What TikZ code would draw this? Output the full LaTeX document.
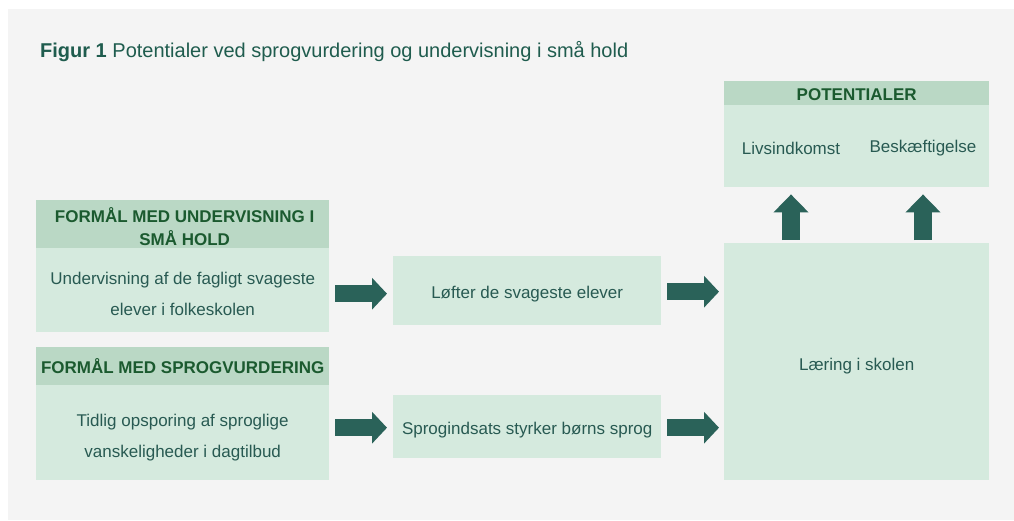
\documentclass[tikz,border=0pt]{standalone}
\usepackage{fontspec}
\setmainfont{Liberation Sans}
\usetikzlibrary{arrows.meta,calc}
\definecolor{bg}{HTML}{F4F4F4}
\definecolor{hdrfill}{HTML}{BAD8C5}
\definecolor{bodyfill}{HTML}{D5EADE}
\definecolor{hdrtext}{HTML}{1B5A2F}
\definecolor{bodytext}{HTML}{285A52}
\definecolor{titlec}{HTML}{1F5C4E}
\definecolor{arrowc}{HTML}{2A6259}
\tikzset{
  hdr/.style={fill=hdrfill, inner sep=0pt, anchor=north west},
  bodybox/.style={fill=bodyfill, inner sep=0pt, anchor=north west},
  hdrtxt/.style={inner sep=0pt, align=center, text=hdrtext, font=\fontsize{17}{23}\selectfont\bfseries},
  plain/.style={inner sep=0pt, align=center, text=bodytext, font=\fontsize{17}{31}\selectfont},
  fatarrow/.style={draw=arrowc, line width=17pt, -{Triangle[width=31pt,length=15pt]}},
  fatarrowv/.style={draw=arrowc, line width=18pt, -{Triangle[width=34pt,length=18pt]}}
}
\begin{document}
\begin{tikzpicture}[x=1pt,y=-1pt]
\path[use as bounding box] (0,0) rectangle (1014,520);
\fill[bg] (8,9) rectangle (1014,520);
\node[anchor=base west, inner sep=0pt, text=titlec, font=\fontsize{20}{24}\selectfont] (title) at (40,57)
  {\textbf{Figur 1} Potentialer ved sprogvurdering og undervisning i små hold};
% left boxes
\node[hdr, minimum width=293pt, minimum height=48pt] (h1) at (36,200) {};
\node[hdrtxt] (h1t) at ($(h1.center)+(2,2)$) {FORMÅL MED UNDERVISNING I\\SMÅ HOLD};
\node[bodybox, minimum width=293pt, minimum height=84pt] (b1) at (36,248) {};
\node[plain] (b1t) at ($(b1.center)+(0,4)$) {Undervisning af de fagligt svageste\\elever i folkeskolen};
\node[hdr, minimum width=293pt, minimum height=38pt] (h2) at (36,347) {};
\node[hdrtxt] (h2t) at ($(h2.center)+(0,0)$) {FORMÅL MED SPROGVURDERING};
\node[bodybox, minimum width=293pt, minimum height=95pt] (b2) at (36,385) {};
\node[plain] (b2t) at ($(b2.center)+(0,5)$) {Tidlig opsporing af sproglige\\vanskeligheder i dagtilbud};
% middle boxes
\node[bodybox, minimum width=268pt, minimum height=69pt] (m1) at (393,256) {};
\node[plain] (m1t) at ($(m1.center)+(0,3)$) {Løfter de svageste elever};
\node[bodybox, minimum width=268pt, minimum height=63pt] (m2) at (393,395) {};
\node[plain] (m2t) at ($(m2.center)+(0,3)$) {Sprogindsats styrker børns sprog};
% right boxes
\node[hdr, minimum width=265pt, minimum height=24pt] (ph) at (724,81) {};
\node[hdrtxt] (pht) at ($(ph.center)+(0,1)$) {POTENTIALER};
\node[bodybox, minimum width=265pt, minimum height=82pt] (pot) at (724,105) {};
\node[plain] (liv) at (791,148) {Livsindkomst};
\node[plain] (besk) at (923,148) {Beskæftigelse};
\node[bodybox, minimum width=265pt, minimum height=237pt] (big) at (724,243) {};
\node[plain] (bigt) at ($(big.center)+(0,4)$) {Læring i skolen};
% arrows
\draw[fatarrow] ($(b1.east|-m1.west)+(6,3)$) -- ($(m1.west)+(-6,3)$);
\draw[fatarrow] ($(m1.east)+(6,1)$) -- ($(m1.east -| big.west)+(-5,1)$);
\draw[fatarrow] ($(b2.east|-m2.west)+(6,1)$) -- ($(m2.west)+(-6,1)$);
\draw[fatarrow] ($(m2.east)+(6,1)$) -- ($(m2.east -| big.west)+(-5,1)$);
\draw[fatarrowv] ($(liv |- big.north)+(0,-3)$) -- ($(liv |- pot.south)+(0,7)$);
\draw[fatarrowv] ($(besk |- big.north)+(0,-3)$) -- ($(besk |- pot.south)+(0,7)$);
\end{tikzpicture}
\end{document}
